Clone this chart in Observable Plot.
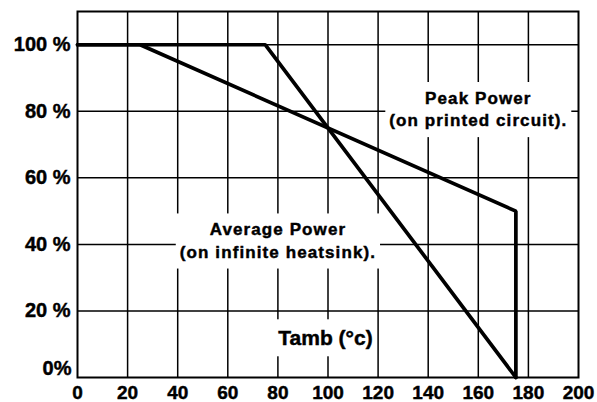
<!DOCTYPE html>
<html><head><meta charset="utf-8">
<script src="https://cdn.jsdelivr.net/npm/d3@7"></script>
<script src="https://cdn.jsdelivr.net/npm/@observablehq/plot@0.6"></script>
<style>
body{margin:0;background:#fff}
svg text{stroke:#000;stroke-width:0.45px}
svg g[aria-label="x-axis tick label"], svg g[aria-label="x-axis tick label"] text{font-size:19px !important}
svg g[aria-label="y-axis tick label"], svg g[aria-label="y-axis tick label"] text{font-size:20px !important}
</style>
</head><body><div id="chart"></div>
<script>
// Data
const xTicks = [0, 20, 40, 60, 80, 100, 120, 140, 160, 180, 200];
const yTicks = [0, 20, 40, 60, 80, 100];
const yTickLabels = ["0%", "20 %", "40 %", "60 %", "80 %", "100 %"];
const peakTemp = [0, 25, 175, 175];
const peakPower = [100, 100, 50, 0];
const avgTemp = [0, 75, 175];
const avgPower = [100, 100, 0];
const annotText = ["Peak Power\n(on printed circuit).", "Average Power\n(on infinite heatsink)."];
const annotTemp = [160, 80];
const annotPower = [81, 41.5];
const axisTitle = ["Tamb (°c)"];
const axisTitleTemp = [99];
const axisTitlePower = [11.7];

const toRows = (xs, ys) => xs.map((x, i) => ({x, y: ys[i]}));
const yFmt = d => yTickLabels[yTicks.indexOf(d)];

const plot = Plot.plot({
  width: 597,
  height: 402,
  marginLeft: 77,
  marginRight: 19,
  marginTop: 11,
  marginBottom: 25,
  style: {fontFamily: "'Liberation Sans', Arial, sans-serif", fontSize: "19px", fontWeight: "bold", color: "black", background: "white"},
  x: {domain: [0, 200]},
  y: {domain: [0, 110]},
  marks: [
    Plot.gridX(xTicks.slice(1, -1), {stroke: "black", strokeOpacity: 1, strokeWidth: 1.5}),
    Plot.gridY(yTicks.slice(1), {stroke: "black", strokeOpacity: 1, strokeWidth: 1.5}),
    Plot.frame({stroke: "black", strokeWidth: 2}),
    Plot.axisX({ticks: xTicks, tickSize: 0, tickPadding: 8, label: null, fontSize: 19}),
    Plot.axisY({ticks: yTicks.slice(1), tickFormat: yFmt, tickSize: 0, tickPadding: 7, label: null, fontSize: 20}),
    Plot.axisY({ticks: [0], tickFormat: yFmt, tickSize: 0, tickPadding: 6, dy: -9, label: null, fontSize: 20}),
    Plot.line(toRows(peakTemp, peakPower), {x: "x", y: "y", stroke: "black", strokeWidth: 3.7, strokeLinejoin: "miter"}),
    Plot.line(toRows(avgTemp, avgPower), {x: "x", y: "y", stroke: "black", strokeWidth: 3.7, strokeLinejoin: "miter"}),
    Plot.text(annotText.map((t, i) => ({t, x: annotTemp[i], y: annotPower[i]})), {x: "x", y: "y", text: "t", fontSize: 17, fontWeight: "bold", lineHeight: 1.3, fill: "black"}),
    Plot.text(axisTitle.map((t, i) => ({t, x: axisTitleTemp[i], y: axisTitlePower[i]})), {x: "x", y: "y", text: "t", fontSize: 21, fontWeight: "bold", fill: "black"})
  ]
});
document.getElementById("chart").append(plot);

// white boxes behind annotation texts (cover grid lines)
const ns = "http://www.w3.org/2000/svg";
const groups = plot.querySelectorAll('g[aria-label="text"]');
if (groups[0]) groups[0].querySelectorAll("text").forEach(t => t.style.letterSpacing = "1.1px");
groups.forEach(g => {
  g.querySelectorAll("text").forEach(t => {
    const b = t.getBBox();
    const r = document.createElementNS(ns, "rect");
    r.setAttribute("x", b.x - 4);
    r.setAttribute("y", b.y - 7);
    r.setAttribute("width", b.width + 8);
    r.setAttribute("height", b.height + 14);
    r.setAttribute("fill", "white");
    r.setAttribute("stroke", "none");
    const tr = t.getAttribute("transform");
    if (tr) r.setAttribute("transform", tr);
    g.insertBefore(r, t);
  });
});
</script>
</body></html>
